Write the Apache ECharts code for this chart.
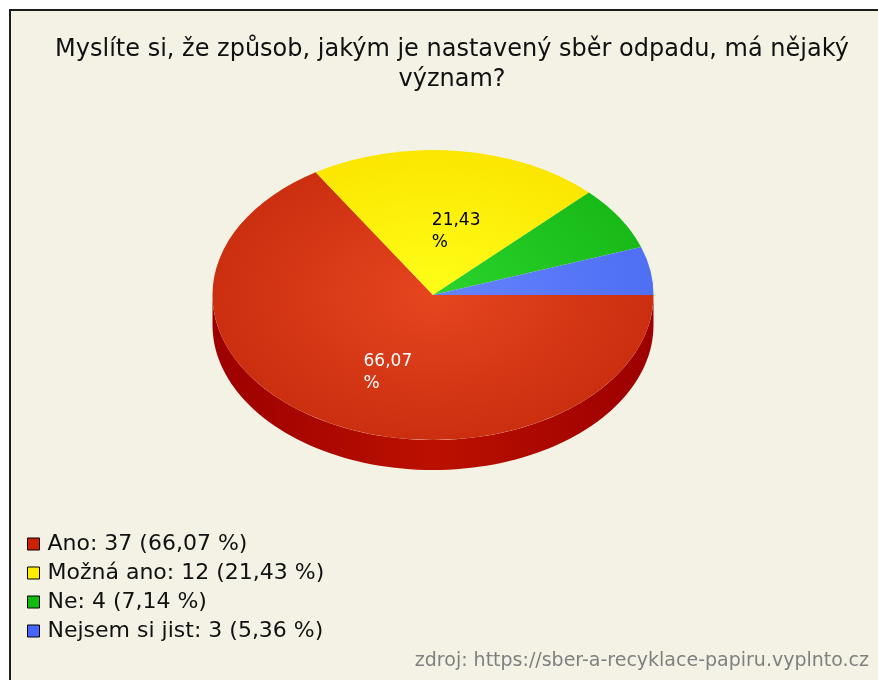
<!DOCTYPE html>
<html>
<head>
<meta charset="utf-8">
<script src="https://cdn.jsdelivr.net/npm/echarts@6/dist/echarts.min.js"></script>
<style>
  html, body { margin: 0; padding: 0; background: #ffffff; }
  #chart { width: 878px; height: 680px; }
</style>
</head>
<body>
<div id="chart"></div>
<script>
// ---- data ----
const categories = ['Ano', 'Možná ano', 'Ne', 'Nejsem si jist'];
const counts = [37, 12, 4, 3];
const titleText = 'Myslíte si, že způsob, jakým je nastavený sběr odpadu, má nějaký\nvýznam?';
const sourceText = 'zdroj: https://sber-a-recyklace-papiru.vyplnto.cz';

// ---- styles ----
const topColors = [['#e6451f', '#cb2f10'], ['#ffff18', '#fbe600'], ['#2cd42c', '#18ba18'], ['#6484ff', '#4f6ff4']];
const sideColors = [['#9c0000', '#bb1000'], ['#b8a800', '#d8c800'], ['#0e800e', '#14a014'], ['#2f48b0', '#3d5ad0']];
const legendColors = ['#cc2200', '#ffee00', '#11bb11', '#4466ff'];
const labelColors = ['#ffffff', '#000000', '#000000', '#000000'];
const FONT = 'DejaVu Sans';

// pie layout (pixels)
const PIE = { cx: 433, cy: 295, rx: 220.5, ry: 145, depth: 30 };

const total = counts.reduce((a, b) => a + b, 0);
function pct(v) { return (v / total * 100).toFixed(2).replace('.', ','); }

function renderSlice(params, api) {
  const i = params.seriesIndex;
  const v = api.value(0);
  let cum = 0;
  for (let k = 0; k < i; k++) cum += counts[k];
  const s = cum / total * 360;          // screen degrees, clockwise from 3 o'clock
  const e = (cum + v) / total * 360;
  const toRad = Math.PI / 180;
  const { cx, cy, rx, ry, depth } = PIE;
  const children = [];

  // side (front half: screen angles 0..180)
  const a = Math.max(s, 0), b = Math.min(e, 180);
  if (b > a) {
    const pts = [];
    const steps = Math.max(2, Math.ceil((b - a) / 2));
    for (let j = 0; j <= steps; j++) {
      const t = (a + (b - a) * j / steps) * toRad;
      pts.push([cx + rx * Math.cos(t), cy + ry * Math.sin(t)]);
    }
    for (let j = steps; j >= 0; j--) {
      const t = (a + (b - a) * j / steps) * toRad;
      pts.push([cx + rx * Math.cos(t), cy + ry * Math.sin(t) + depth]);
    }
    children.push({
      type: 'polygon',
      z2: 1,
      shape: { points: pts },
      style: {
        fill: new echarts.graphic.LinearGradient(cx - rx, 0, cx + rx, 0, [
          { offset: 0, color: sideColors[i][0] },
          { offset: 0.5, color: sideColors[i][1] },
          { offset: 1, color: sideColors[i][0] }
        ], true)
      }
    });
  }

  // top surface
  children.push({
    type: 'sector',
    z2: 10,
    x: cx, y: cy, scaleX: 1, scaleY: ry / rx,
    shape: { cx: 0, cy: 0, r0: 0, r: rx, startAngle: s * toRad, endAngle: e * toRad, clockwise: true },
    style: {
      fill: new echarts.graphic.RadialGradient(0, 0, rx, [
        { offset: 0, color: topColors[i][0] },
        { offset: 1, color: topColors[i][1] }
      ], true)
    }
  });

  // label
  if (v / total >= 0.1) {
    const m = (s + e) / 2 * toRad;
    const f = 0.52;
    children.push({
      type: 'text',
      z2: 20,
      x: cx + f * rx * Math.cos(m) - 14,
      y: cy + f * ry * Math.sin(m) + 12,
      style: {
        text: pct(v) + '\n%',
        fill: labelColors[i],
        font: '17px "' + FONT + '"',
        lineHeight: 22,
        align: 'left',
        verticalAlign: 'middle'
      }
    });
  }
  return { type: 'group', children: children };
}

const chart = echarts.init(document.getElementById('chart'), null, { renderer: 'canvas' });

const option = {
  animation: false,
  backgroundColor: '#ffffff',
  graphic: [{
    type: 'rect',
    z: -10,
    shape: { x: 10, y: 10, width: 1000, height: 1000 },
    style: { fill: '#f4f2e4', stroke: '#1c1c1c', lineWidth: 2 },
    silent: true
  }],
  title: [{
    text: titleText,
    left: 447,
    top: 30,
    textAlign: 'center',
    textStyle: { fontFamily: FONT, fontSize: 24, fontWeight: 'normal', color: '#111111', lineHeight: 30 }
  }, {
    text: sourceText,
    right: 4,
    bottom: 4,
    textStyle: { fontFamily: FONT, fontSize: 19, fontWeight: 'normal', color: '#808080' }
  }],
  legend: {
    orient: 'vertical',
    left: 27,
    top: 533,
    padding: 0,
    itemWidth: 12,
    itemHeight: 12,
    itemGap: 7,
    icon: 'rect',
    selectedMode: false,
    data: categories,
    itemStyle: { borderColor: '#000000', borderWidth: 1 },
    textStyle: { fontFamily: FONT, fontSize: 22, color: '#111111', lineHeight: 20, padding: [0, 0, 0, 3] },
    formatter: function (name) {
      const i = categories.indexOf(name);
      return name + ': ' + counts[i] + ' (' + pct(counts[i]) + ' %)';
    }
  },
  series: categories.map(function (name, i) {
    return {
      type: 'custom',
      name: name,
      coordinateSystem: 'none',
      itemStyle: { color: legendColors[i] },
      data: [[counts[i]]],
      renderItem: renderSlice
    };
  })
};

chart.setOption(option);
</script>
</body>
</html>
